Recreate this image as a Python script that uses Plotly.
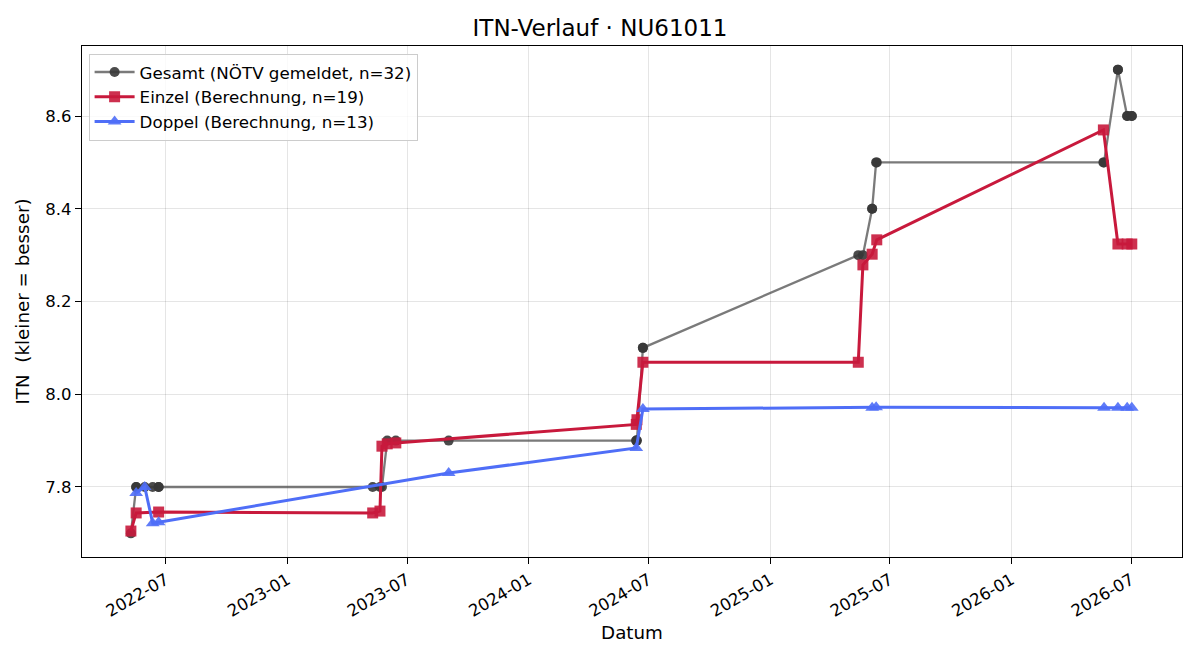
import plotly.graph_objects as go

# Einzel (singles) calculation
einzel_dates = ["2022-05-09", "2022-05-17", "2022-06-20", "2023-05-10", "2023-05-21",
                "2023-05-24", "2023-06-01", "2023-06-14", "2024-06-12", "2024-06-13",
                "2024-06-22", "2025-05-14", "2025-05-21", "2025-06-04", "2025-06-11",
                "2026-05-20", "2026-06-11", "2026-06-25", "2026-07-02"]
einzel_vals = [7.705, 7.744, 7.746, 7.744, 7.748,
               7.888, 7.893, 7.895, 7.935, 7.945,
               8.069, 8.069, 8.279, 8.302, 8.333,
               8.570, 8.324, 8.324, 8.324]

# Doppel (doubles) calculation
doppel_dates = ["2022-05-17", "2022-05-30", "2022-06-11", "2022-06-20", "2023-09-02",
                "2024-06-12", "2024-06-22", "2025-06-04", "2025-06-10", "2026-05-21",
                "2026-06-11", "2026-06-25", "2026-07-02"]
doppel_vals = [7.787, 7.800, 7.722, 7.724, 7.830,
               7.884, 7.968, 7.971, 7.972, 7.971,
               7.971, 7.971, 7.971]

# Gesamt (reported overall)
gesamt_dates = ["2022-05-09", "2022-05-17", "2022-05-17", "2022-05-30", "2022-06-11",
                "2022-06-20", "2022-06-20", "2023-05-10", "2023-05-21", "2023-05-24",
                "2023-06-01", "2023-06-14", "2023-09-02", "2024-06-12", "2024-06-12",
                "2024-06-13", "2024-06-22", "2024-06-22", "2025-05-14", "2025-05-21",
                "2025-06-04", "2025-06-04", "2025-06-10", "2025-06-11", "2026-05-20",
                "2026-05-21", "2026-06-11", "2026-06-11", "2026-06-25", "2026-06-25",
                "2026-07-02", "2026-07-02"]
gesamt_vals = [7.7, 7.8, 7.8, 7.8, 7.8,
               7.8, 7.8, 7.8, 7.8, 7.8,
               7.9, 7.9, 7.9, 7.9, 7.9,
               7.9, 8.1, 8.1, 8.3, 8.3,
               8.4, 8.4, 8.5, 8.5, 8.5,
               8.5, 8.7, 8.7, 8.6, 8.6,
               8.6, 8.6]

x_ticks = ["2022-07-01", "2023-01-01", "2023-07-01", "2024-01-01", "2024-07-01",
           "2025-01-01", "2025-07-01", "2026-01-01", "2026-07-01"]
x_labels = ["2022-07", "2023-01", "2023-07", "2024-01", "2024-07",
            "2025-01", "2025-07", "2026-01", "2026-07"]
y_ticks = [7.8, 8.0, 8.2, 8.4, 8.6]

GRAY = "rgba(85,85,85,0.78)"
RED = "#c8193c"
BLUE = "#4f6ef7"

fig = go.Figure()
fig.add_trace(go.Scatter(
    x=gesamt_dates, y=gesamt_vals, mode="lines+markers",
    name="Gesamt (NÖTV gemeldet, n=32)",
    line=dict(color=GRAY, width=2.3),
    marker=dict(symbol="circle", size=10, color="rgba(55,55,55,0.9)"),
))
fig.add_trace(go.Scatter(
    x=einzel_dates, y=einzel_vals, mode="lines+markers",
    name="Einzel (Berechnung, n=19)",
    line=dict(color=RED, width=3),
    marker=dict(symbol="square", size=11, color="rgba(200,25,60,0.9)"),
))
fig.add_trace(go.Scatter(
    x=doppel_dates, y=doppel_vals, mode="lines+markers",
    name="Doppel (Berechnung, n=13)",
    line=dict(color=BLUE, width=3),
    marker=dict(symbol="triangle-up", size=12, color="rgba(79,110,247,0.9)"),
))

axis_common = dict(
    showline=True, linecolor="black", linewidth=1.3, mirror=True,
    ticks="outside", ticklen=6, tickcolor="black", tickwidth=1.3,
    showgrid=True, gridcolor="rgba(0,0,0,0.1)", gridwidth=1,
    zeroline=False, tickfont=dict(size=16.5, color="black"),
)

fig.update_layout(
    width=1200, height=660,
    margin=dict(l=82, r=18, t=46, b=103),
    paper_bgcolor="white", plot_bgcolor="white",
    font=dict(family="DejaVu Sans", color="black"),
    title=dict(text="ITN-Verlauf · NU61011", x=0.5, xanchor="center",
               y=1 - 28 / 660, yanchor="middle", font=dict(size=23)),
    xaxis=dict(axis_common, range=["2022-02-24", "2026-09-16"], type="date",
               tickvals=x_ticks, ticktext=x_labels, tickangle=-30,
               title=dict(text="Datum", font=dict(size=18.3), standoff=6)),
    yaxis=dict(axis_common, range=[7.649, 8.751], tickvals=y_ticks,
               tickformat=".1f",
               title=dict(text="ITN  (kleiner = besser)", font=dict(size=18.3), standoff=10)),
    legend=dict(x=0.006, y=0.985, xanchor="left", yanchor="top",
                bgcolor="rgba(255,255,255,0.8)", bordercolor="#cccccc", borderwidth=1,
                font=dict(size=16.7), tracegroupgap=0, itemwidth=40),
    showlegend=True,
)

fig.write_html("out.html")
